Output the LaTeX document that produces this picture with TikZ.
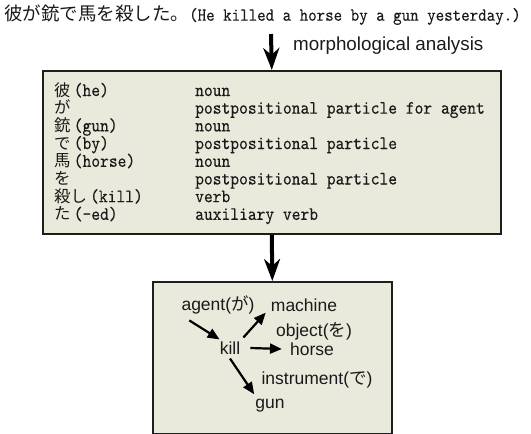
\documentclass[tikz,border=0pt]{standalone}
\usepackage{fontspec}
\setmainfont{Liberation Serif}
\setsansfont{Liberation Sans}
\newfontfamily\jpfont{Noto Sans CJK JP}
\newfontfamily\rowmonofam{lmmono10-regular.otf}[FakeStretch=0.88,FakeBold=0.2]
\usetikzlibrary{arrows.meta}
\definecolor{boxfill}{HTML}{EAEADC}
\definecolor{boxline}{HTML}{1E1E1E}
\definecolor{txt}{HTML}{1A1A1A}
\newcommand{\topmono}{\rowmonofam\fontsize{18.4}{19}\selectfont}
\newcommand{\topjp}{\jpfont\fontsize{18.5}{19}\selectfont}
\newcommand{\rowmono}{\rowmonofam\fontsize{19}{19}\selectfont}
\newcommand{\rowjp}{\jpfont\fontsize{16.4}{17}\selectfont}
\begin{document}
\begin{tikzpicture}[x=1pt,y=-1pt,
  panel/.style={draw=boxline,line width=1.6pt,fill=boxfill},
  bigarrow/.style={line width=4pt,-{Stealth[length=22pt,width=16pt,inset=7pt]}},
  smallarrow/.style={line width=2.2pt,-{Triangle[length=12pt,width=10pt]}},
  lcol/.style={anchor=west,inner sep=0pt,text=txt,font=\rowmono,text height=11pt,text depth=3pt},
  rcol/.style={anchor=west,inner sep=0pt,text=txt,font=\rowmono,text height=11pt,text depth=3pt},
  word/.style={inner sep=0pt,text=txt,font=\sffamily\fontsize{17.5}{18}\selectfont},
  lbl/.style={inner sep=0pt,text=txt,font=\sffamily\fontsize{18.8}{19}\selectfont}]
\useasboundingbox (0,0) rectangle (531,434);

% title line
\node[anchor=west,inner sep=0pt,text=txt] (title) at (4,15)
  {{\topjp 彼が銃で馬を殺した。}{\topmono (He killed a horse by a gun yesterday.)}};

% morphological analysis box
\node[panel,minimum width=458pt,minimum height=163pt,anchor=north west,inner sep=0pt] (box1) at (42,70) {};
\coordinate (a1start) at (271,34);
\draw[bigarrow] (a1start) -- (box1.north);
\node[lbl,anchor=west] (morph) at (293,46) {morphological analysis};

\node[lcol] (l1) at (54,92.0)  {{\rowjp 彼}\,(he)};
\node[lcol] (l2) at (54,109.7) {{\rowjp が}};
\node[lcol] (l3) at (54,127.4) {{\rowjp 銃}\,(gun)};
\node[lcol] (l4) at (54,145.1) {{\rowjp で}\,(by)};
\node[lcol] (l5) at (54,162.8) {{\rowjp 馬}\,(horse)};
\node[lcol] (l6) at (54,180.5) {{\rowjp を}};
\node[lcol] (l7) at (54,198.2) {{\rowjp 殺し}\,(kill)};
\node[lcol] (l8) at (54,215.9) {{\rowjp た}\,(-ed)};

\node[rcol] (r1) at (195,92.0)  {noun};
\node[rcol] (r2) at (195,109.7) {postpositional particle for agent};
\node[rcol] (r3) at (195,127.4) {noun};
\node[rcol] (r4) at (195,145.1) {postpositional particle};
\node[rcol] (r5) at (195,162.8) {noun};
\node[rcol] (r6) at (195,180.5) {postpositional particle};
\node[rcol] (r7) at (195,198.2) {verb};
\node[rcol] (r8) at (195,215.9) {auxiliary verb};

% semantic box
\node[panel,minimum width=239pt,minimum height=152pt,anchor=north west,inner sep=0pt] (box2) at (152,281) {};
\draw[bigarrow] (box1.south) -- (box2.north);

\node[word] (agent) at (218,305) {agent({\jpfont が})};
\node[word] (machine) at (304,305) {machine};
\node[word] (object) at (314,331) {object({\jpfont を})};
\node[word] (kill) at (230,348) {kill};
\node[word] (horse) at (312,349) {horse};
\node[word] (instr) at (317,380) {instrument({\jpfont で})};
\node[word] (gun) at (270,406) {gun};

\draw[smallarrow] ([xshift=8pt,yshift=-6pt]agent.south west) -- ([xshift=0pt,yshift=2pt]kill.north west);
\draw[smallarrow] ([xshift=3pt,yshift=4pt]kill.north east) -- ([xshift=-5pt,yshift=-1pt]machine.south west);
\draw[smallarrow] ([xshift=10pt]kill.east) -- ([xshift=-8pt]horse.west);
\draw[smallarrow] ([yshift=-4pt]kill.south) -- ([xshift=-1pt,yshift=5pt]gun.north west);
\end{tikzpicture}
\end{document}
